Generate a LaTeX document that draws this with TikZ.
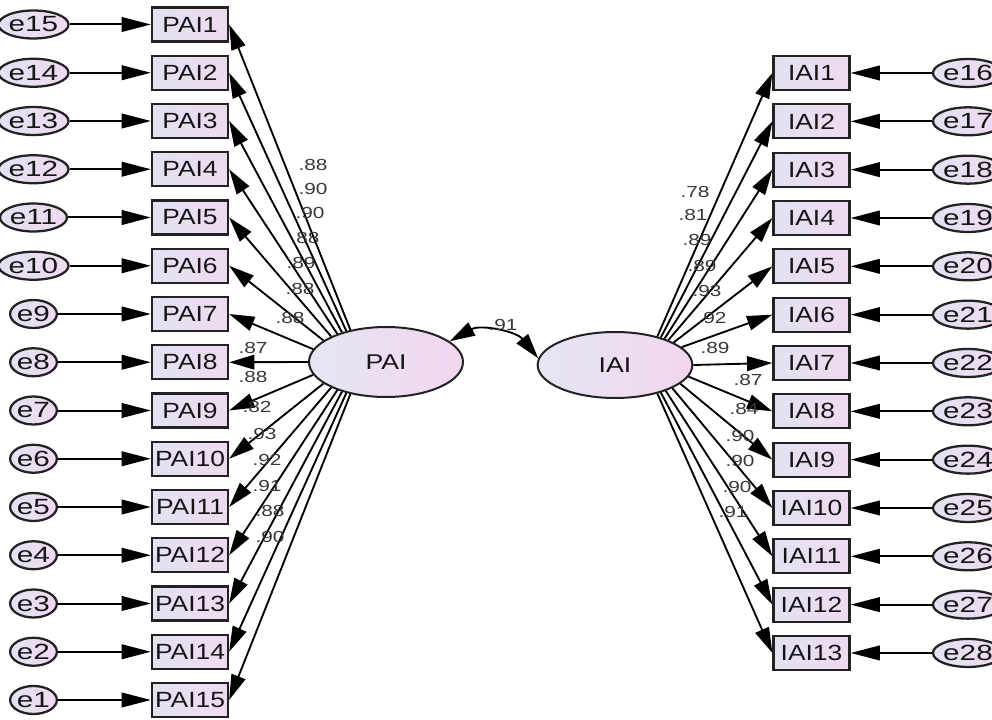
\documentclass[tikz,border=0pt]{standalone}
\usepackage{fontspec}
\usepackage{graphicx}
\setmainfont{Liberation Sans}
\usetikzlibrary{arrows.meta,shapes.geometric}
\definecolor{boxL}{HTML}{E3E1F2}
\definecolor{boxR}{HTML}{EFDAF1}
\definecolor{latL}{HTML}{E6E6F4}
\definecolor{latR}{HTML}{F2D5F0}
\definecolor{edgec}{HTML}{222222}
\definecolor{txt}{HTML}{151515}
\newcommand\myhs[2]{\scalebox{#1}[1]{#2}}
\tikzset{
  indbox/.style={rectangle, draw=edgec, line width=1.7pt, left color=boxL, right color=boxR,
    minimum width=57pt, minimum height=25.5pt, inner sep=0pt, text=txt,
    font=\fontsize{16.5pt}{16.5pt}\selectfont},
  errnode/.style={ellipse, draw=edgec, line width=1.7pt, left color=boxL, right color=boxR,
    minimum width=34pt, minimum height=21pt, inner sep=0pt, text=txt,
    font=\fontsize{16.5pt}{16.5pt}\selectfont},
  latnode/.style={ellipse, draw=edgec, line width=1.5pt, left color=latL, right color=latR,
    inner sep=0pt, text=txt, font=\fontsize{16pt}{16pt}\selectfont},
  errarr/.style={line width=1.5pt, -{Triangle[length=22pt,width=11pt]}},
  ldarr/.style={line width=1.4pt, -{Triangle[length=19pt,width=11pt]}},
  covarr/.style={line width=1.4pt, {Triangle[length=19pt,width=11pt]}-{Triangle[length=19pt,width=11pt]}},
  coef/.style={inner sep=0pt, text=txt!85, font=\fontsize{12pt}{12pt}\selectfont}
}
\begin{document}
\begin{tikzpicture}[x=0.75pt,y=-0.75pt]
\useasboundingbox[fill=white] (0,0) rectangle (992,720);

% latent variables
\node[latnode, minimum width=115.5pt, minimum height=52.5pt] (PAI) at (386,362) {\myhs{1.25}{PAI}};
\node[latnode, minimum width=116pt, minimum height=49.5pt] (IAI) at (615,365) {\myhs{1.25}{IAI}};

% left indicators
\foreach \i/\e/\ang in {1/15/138,2/14/142,3/13/146,4/12/150,5/11/155,6/10/161,7/9/170,8/8/180,
  9/7/190,10/6/199,11/5/205,12/4/210,13/3/214,14/2/218,15/1/222}{
  \pgfmathsetmacro\yy{24.5+48.25*(\i-1)}
  \node[indbox] (PAI\i) at (190,\yy) {\myhs{1.2}{PAI\i}};
  \node[errnode] (e\e) at (33.5,\yy) {\myhs{1.35}{e\e}};
  \draw[errarr] (e\e) -- (PAI\i);
  \draw[ldarr] (PAI.\ang) -- (PAI\i.east);
}

% right indicators
\foreach \i/\ang in {1/34,2/31,3/28,4/25,5/21,6/15,7/0,8/-9,9/-16,10/-22,11/-27,12/-31,13/-34}{
  \pgfmathsetmacro\yy{73+48.33*(\i-1)}
  \pgfmathtruncatemacro\ee{\i+15}
  \node[indbox] (IAI\i) at (811.5,\yy) {\myhs{1.2}{IAI\i}};
  \node[errnode] (e\ee) at (968,\yy) {\myhs{1.35}{e\ee}};
  \draw[errarr] (e\ee) -- (IAI\i);
  \draw[ldarr] (IAI.\ang) -- (IAI\i.west);
}

% covariance
\draw[covarr] (PAI.18) to[bend left=40] (IAI.175);
\node[coef] (c91) at (503,325) {\myhs{1.3}{.91}};

% left coefficients
\foreach \n/\x/\y/\t in {1/313/165/.88,2/313/189/.90,3/310/213/.90,4/305/238/.88,5/301/263/.89,
  6/300/289/.88,7/290/318/.88,8/253/348/.87,9/253/377/.88,10/257/407/.82,11/262/434/.93,
  12/267/460/.92,13/267/486/.91,14/270/511/.88,15/270/537/.90}{
  \node[coef] (lc\n) at (\x,\y) {\myhs{1.3}{\t}};
}
% right coefficients
\foreach \n/\x/\y/\t in {1/695/192/.78,2/693/215/.81,3/697/240/.89,4/702/266/.89,5/707/291/.93,
  6/712/318/.92,7/715/348/.89,8/748/380/.87,9/744/409/.84,10/740/436/.90,11/740/461/.90,
  12/737/487/.90,13/733/512/.91}{
  \node[coef] (rc\n) at (\x,\y) {\myhs{1.3}{\t}};
}
\end{tikzpicture}
\end{document}
